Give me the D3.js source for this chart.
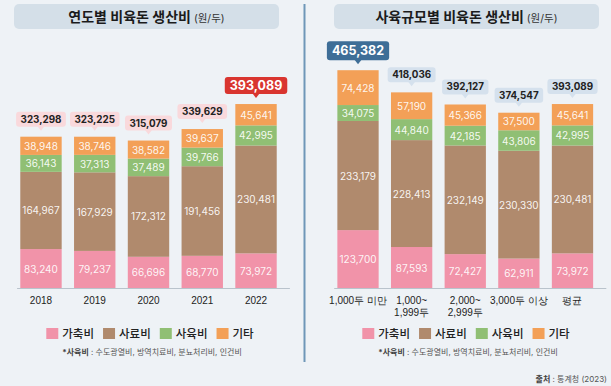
<!DOCTYPE html>
<html lang="ko">
<head>
<meta charset="UTF-8">
<title>비육돈 생산비</title>
<script src="https://d3js.org/d3.v7.min.js"></script>
<style>
  body { margin: 0; background: #eef2f6; }
  svg { display: block; font-family: Inter, "Noto Sans CJK KR", sans-serif; }
  .seg-label { fill: #fff; fill-opacity: 0.92; font-size: 10px; text-anchor: middle; dominant-baseline: central; }
  .tick text { font-size: 10px; font-weight: 500; fill: #222; }
  .legend-text { font-size: 11.5px; font-weight: 500; fill: #222; }
  .note { font-size: 8px; fill: #555; }
</style>
</head>
<body>
<div id="chart"></div>
<script>
  // 데이터
  const years = ["2018", "2019", "2020", "2021", "2022"];
  const yearLivestock = [83240, 79237, 66696, 68770, 73972];
  const yearFeed = [164967, 167929, 172312, 191456, 230481];
  const yearRaising = [36143, 37313, 37489, 39766, 42995];
  const yearOther = [38948, 38746, 38582, 39637, 45641];
  const yearTotal = [323298, 323225, 315079, 339629, 393089];

  const sizes = ["1,000두 미만", "1,000~\n1,999두", "2,000~\n2,999두", "3,000두 이상", "평균"];
  const sizeLivestock = [123700, 87593, 72427, 62911, 73972];
  const sizeFeed = [233179, 228413, 232149, 230330, 230481];
  const sizeRaising = [34075, 44840, 42185, 43806, 42995];
  const sizeOther = [74428, 57190, 45366, 37500, 45641];
  const sizeTotal = [465382, 418036, 392127, 374547, 393089];

  const seriesNames = ["가축비", "사료비", "사육비", "기타"];
  const colors = ["#f193a9", "#b08a6d", "#90bf74", "#f3a057"];

  const W = 611, H = 386;
  const fmt = d3.format(",");

  const svg = d3.select("#chart").append("svg")
    .attr("width", W).attr("height", H);

  svg.append("rect").attr("width", W).attr("height", H).attr("fill", "#eef2f6");

  // 공통 y 스케일
  const y = d3.scaleLinear().domain([0, 500000]).range([288, 54]);

  function drawPanel(opt) {
    const g = svg.append("g");
    const x = d3.scaleBand().domain(opt.cats).range(opt.range)
      .paddingInner(0.23).paddingOuter(0.115);

    // 제목 박스
    g.append("rect")
      .attr("x", opt.titleBox[0]).attr("y", 4)
      .attr("width", opt.titleBox[1] - opt.titleBox[0]).attr("height", 25)
      .attr("rx", 5).attr("fill", "#d4dfe8");
    const title = g.append("text")
      .attr("x", (opt.titleBox[0] + opt.titleBox[1]) / 2).attr("y", 21.5)
      .attr("text-anchor", "middle").attr("fill", "#1b1b1b");
    title.append("tspan").attr("font-size", 14).attr("font-weight", 700).text(opt.title);
    title.append("tspan").attr("font-size", 10.5).attr("fill", "#333").text(" (원/두)");

    // 누적 데이터
    const rows = opt.cats.map((c, i) => ({
      cat: c, vals: [opt.series[0][i], opt.series[1][i], opt.series[2][i], opt.series[3][i]], total: opt.total[i]
    }));

    rows.forEach(r => {
      let acc = 0;
      r.vals.forEach((v, k) => {
        const y0 = acc, y1 = acc + v;
        acc = y1;
        g.append("rect")
          .attr("x", x(r.cat)).attr("width", x.bandwidth())
          .attr("y", y(y1)).attr("height", y(y0) - y(y1))
          .attr("fill", colors[k]);
        g.append("text").attr("class", "seg-label")
          .attr("x", x(r.cat) + x.bandwidth() / 2)
          .attr("y", (y(y0) + y(y1)) / 2)
          .text(fmt(v));
      });
    });

    // 합계 말풍선
    const maxTotal = d3.max(opt.total);
    rows.forEach(r => {
      const hi = r.total === maxTotal;
      const cx = x(r.cat) + x.bandwidth() / 2;
      const bottom = y(r.total) - 10;
      const fs = hi ? 12.5 : 9.8;
      const bh = hi ? (opt.hiH) : 15;
      const t = g.append("text")
        .attr("x", cx).attr("y", bottom - bh / 2)
        .attr("text-anchor", "middle").attr("dominant-baseline", "central")
        .attr("font-size", fs).attr("font-weight", 700)
        .attr("fill", hi ? "#fff" : "#222")
        .text(fmt(r.total));
      const tw = t.node().getComputedTextLength();
      const bw = tw + (hi ? 10 : 9);
      const fill = hi ? opt.hiFill : opt.boxFill;
      g.insert("rect", () => t.node())
        .attr("x", cx - bw / 2).attr("y", bottom - bh)
        .attr("width", bw).attr("height", bh).attr("rx", 3)
        .attr("fill", fill);
      g.insert("path", () => t.node())
        .attr("d", `M${cx - 3.5},${bottom - 0.5}L${cx + 3.5},${bottom - 0.5}L${cx},${bottom + 4}Z`)
        .attr("fill", fill);
    });

    // x축
    const ax = g.append("g")
      .attr("transform", `translate(0,${y(0)})`)
      .call(d3.axisBottom(x).tickSize(0).tickPadding(9).tickFormat(() => ""));
    ax.select(".domain").attr("stroke", "#b9c3cc").attr("stroke-width", 1)
      .attr("d", `M${opt.range[0] + 3},0.5H${opt.range[1] + 7}`);
    ax.selectAll(".tick text").each(function (d) {
      const lines = d.split("\n");
      const el = d3.select(this);
      lines.forEach((ln, i) => {
        el.append("tspan").attr("x", 0).attr("dy", i === 0 ? "0.71em" : "1.2em").text(ln);
      });
    });

    // 범례
    const lg = g.append("g");
    let lx = 0;
    seriesNames.forEach((name, k) => {
      lg.append("rect").attr("x", lx).attr("y", 328).attr("width", 12).attr("height", 11)
        .attr("fill", colors[k]);
      const tt = lg.append("text").attr("class", "legend-text")
        .attr("x", lx + 16).attr("y", 338).text(name);
      lx += 16 + tt.node().getComputedTextLength() + 9;
    });
    lx -= 9;
    lg.attr("transform", `translate(${opt.center - lx / 2},0)`);

    // 주석
    const note = g.append("text").attr("class", "note")
      .attr("x", opt.center + 2).attr("y", 355).attr("text-anchor", "middle");
    note.append("tspan").attr("font-weight", 700).attr("fill", "#444").text("*사육비");
    note.append("tspan").text(" : 수도광열비, 방역치료비, 분뇨처리비, 인건비");
  }

  drawPanel({
    cats: years, range: [14.1, 282.9], titleBox: [14, 279], title: "연도별 비육돈 생산비",
    series: [yearLivestock, yearFeed, yearRaising, yearOther], total: yearTotal,
    boxFill: "#f9d9dc", hiFill: "#d9352f", hiH: 17, center: 150
  });

  drawPanel({
    cats: sizes, range: [331.2, 599.3], titleBox: [334, 599], title: "사육규모별 비육돈 생산비",
    series: [sizeLivestock, sizeFeed, sizeRaising, sizeOther], total: sizeTotal,
    boxFill: "#d5e1ed", hiFill: "#3e6e97", hiH: 19, center: 466
  });

  // 가운데 구분선
  svg.append("line")
    .attr("x1", 304.5).attr("x2", 304.5).attr("y1", 4).attr("y2", 362)
    .attr("stroke", "#6f97b8").attr("stroke-width", 2);

  // 출처
  const src = svg.append("text").attr("class", "note")
    .attr("x", 607).attr("y", 382).attr("text-anchor", "end").attr("font-size", 8.5);
  src.append("tspan").attr("font-weight", 700).attr("fill", "#444").text("출처");
  src.append("tspan").text(" : 통계청 (2023)");
</script>
</body>
</html>
